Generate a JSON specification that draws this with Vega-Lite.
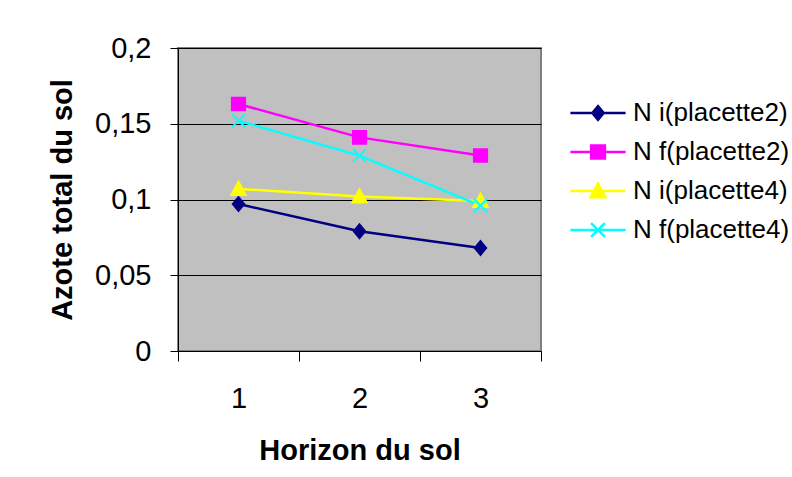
{
  "$schema": "https://vega.github.io/schema/vega-lite/v6.json",
  "width": 363,
  "height": 303,
  "autosize": {"type": "none"},
  "padding": {"left": 178, "top": 48, "right": 251, "bottom": 126},
  "background": "white",
  "config": {
    "font": "Liberation Sans",
    "view": {"fill": "#C0C0C0", "stroke": "#808080", "strokeWidth": 2},
    "axis": {
      "domainColor": "black",
      "tickColor": "black",
      "labelColor": "black",
      "titleColor": "black",
      "labelFont": "Liberation Sans",
      "titleFont": "Liberation Sans",
      "labelFontSize": 29,
      "titleFontSize": 29,
      "titleFontWeight": "bold"
    }
  },
  "data": {
    "values": [
      {"horizon": "1", "series": "N i(placette2)", "N": 0.097},
      {"horizon": "2", "series": "N i(placette2)", "N": 0.079},
      {"horizon": "3", "series": "N i(placette2)", "N": 0.068},
      {"horizon": "1", "series": "N f(placette2)", "N": 0.163},
      {"horizon": "2", "series": "N f(placette2)", "N": 0.141},
      {"horizon": "3", "series": "N f(placette2)", "N": 0.129},
      {"horizon": "1", "series": "N i(placette4)", "N": 0.107},
      {"horizon": "2", "series": "N i(placette4)", "N": 0.102},
      {"horizon": "3", "series": "N i(placette4)", "N": 0.099},
      {"horizon": "1", "series": "N f(placette4)", "N": 0.152},
      {"horizon": "2", "series": "N f(placette4)", "N": 0.129},
      {"horizon": "3", "series": "N f(placette4)", "N": 0.096}
    ]
  },
  "encoding": {
    "x": {
      "field": "horizon",
      "type": "ordinal",
      "title": "Horizon du sol",
      "scale": {"type": "band", "paddingInner": 0, "paddingOuter": 0},
      "axis": {
        "labelAngle": 0,
        "tickBand": "extent",
        "tickSize": 10,
        "labelPadding": 23,
        "titlePadding": 23,
        "domainWidth": 1,
        "grid": false
      }
    },
    "y": {
      "field": "N",
      "type": "quantitative",
      "title": "Azote total du sol",
      "scale": {"domain": [0, 0.2], "nice": false, "zero": true},
      "axis": {
        "values": [0, 0.05, 0.1, 0.15, 0.2],
        "labelExpr": "replace(format(datum.value, '~g'), '.', ',')",
        "grid": true,
        "gridColor": "black",
        "gridWidth": 1,
        "gridOpacity": 1,
        "tickSize": 8,
        "labelPadding": 19,
        "titlePadding": 17
      }
    }
  },
  "resolve": {"scale": {"shape": "independent", "stroke": "independent", "fill": "independent"}},
  "layer": [
    {
      "mark": {"type": "line", "strokeWidth": 2.5},
      "encoding": {
        "color": {
          "field": "series",
          "type": "nominal",
          "scale": {
            "domain": ["N i(placette2)", "N f(placette2)", "N i(placette4)", "N f(placette4)"],
            "range": ["#000080", "#FF00FF", "#FFFF00", "#00FFFF"]
          },
          "legend": null
        }
      }
    },
    {
      "mark": {"type": "point", "filled": true, "opacity": 1, "size": 144, "strokeWidth": 2},
      "encoding": {
        "color": {
          "field": "series",
          "type": "nominal",
          "scale": {
            "domain": ["N i(placette2)", "N f(placette2)", "N i(placette4)", "N f(placette4)"],
            "range": ["#000080", "#FF00FF", "#FFFF00", "#00FFFF"]
          },
          "legend": null
        },
        "shape": {
          "field": "series",
          "type": "nominal",
          "scale": {
            "domain": ["N i(placette2)", "N f(placette2)", "N i(placette4)", "N f(placette4)"],
            "range": [
              "M0,-1.15L0.95,0L0,1.15L-0.95,0Z",
              "M-1.1,-1.05H1.1V1.05H-1.1Z",
              "M0,-1.2L1.2,1H-1.2Z",
              "M-1.1,-1.1L1.1,1.1M-1.1,1.1L1.1,-1.1"
            ]
          },
          "legend": null
        },
        "stroke": {
          "field": "series",
          "type": "nominal",
          "scale": {
            "domain": ["N i(placette2)", "N f(placette2)", "N i(placette4)", "N f(placette4)"],
            "range": ["#000080", "#FF00FF", "#FFFF00", "#00FFFF"]
          },
          "legend": null
        }
      }
    },
    {
      "transform": [{"filter": "datum.N < 0"}],
      "mark": {"type": "point", "filled": true, "opacity": 1, "size": 144, "strokeWidth": 2.5},
      "encoding": {
        "shape": {
          "field": "series",
          "type": "nominal",
          "scale": {
            "domain": ["N i(placette2)", "N f(placette2)", "N i(placette4)", "N f(placette4)"],
            "range": [
              "M-4.6,0H4.6M0,-1.15L0.95,0L0,1.15L-0.95,0Z",
              "M-4.6,0H4.6M-1.15,-1.1H1.15V1.1H-1.15Z",
              "M-4.6,0H4.6M0,-1.25L1.25,1.05H-1.25Z",
              "M-4.6,0H4.6M-1.15,-1.15L1.15,1.15M-1.15,1.15L1.15,-1.15"
            ]
          },
          "legend": {
            "title": null,
            "orient": "none",
            "legendX": 407,
            "legendY": 52,
            "padding": 0,
            "symbolSize": 144,
            "symbolStrokeWidth": 2.5,
            "symbolOpacity": 1,
            "labelFontSize": 26,
            "labelFont": "Liberation Sans",
            "labelColor": "black",
            "labelOffset": 22,
            "rowPadding": 13,
            "labelLimit": 400
          }
        },
        "fill": {
          "field": "series",
          "type": "nominal",
          "scale": {
            "domain": ["N i(placette2)", "N f(placette2)", "N i(placette4)", "N f(placette4)"],
            "range": ["#000080", "#FF00FF", "#FFFF00", "#00FFFF"]
          },
          "legend": {"title": null}
        },
        "stroke": {
          "field": "series",
          "type": "nominal",
          "scale": {
            "domain": ["N i(placette2)", "N f(placette2)", "N i(placette4)", "N f(placette4)"],
            "range": ["#000080", "#FF00FF", "#FFFF00", "#00FFFF"]
          },
          "legend": {"title": null}
        }
      }
    }
  ]
}
